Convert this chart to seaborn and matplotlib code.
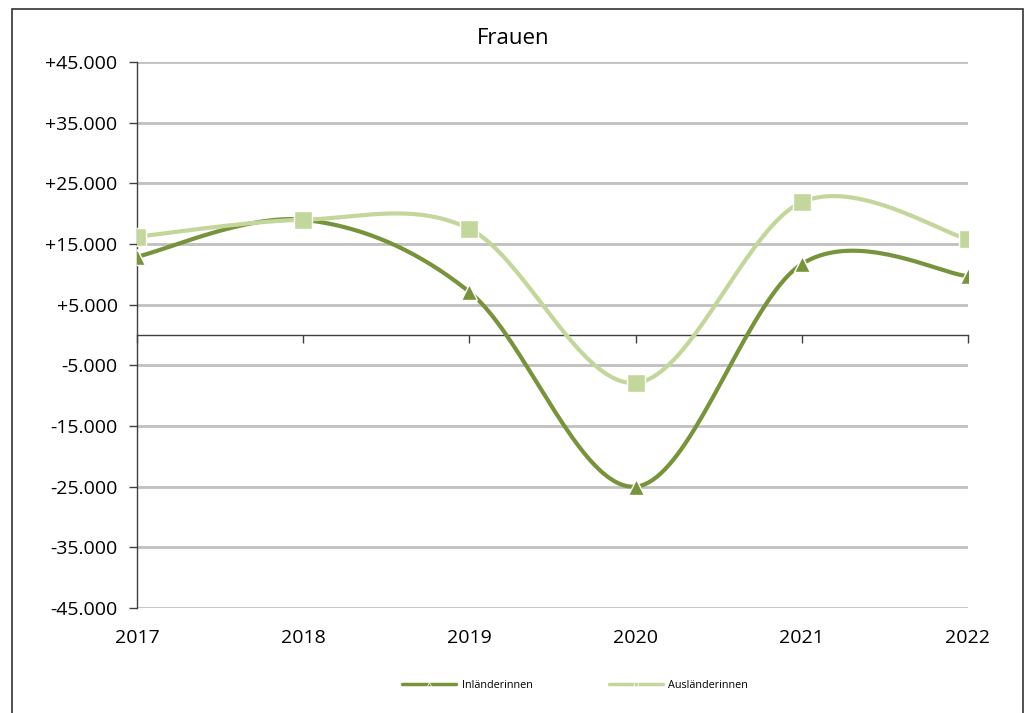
import numpy as np
import pandas as pd
import seaborn as sns
import matplotlib.pyplot as plt
from matplotlib.lines import Line2D
from matplotlib.patches import Rectangle

# data
years = [2017, 2018, 2019, 2020, 2021, 2022]
inlaenderinnen = [12900, 19000, 7100, -25000, 11700, 9700]
auslaenderinnen = [16200, 19000, 17500, -7900, 21900, 15800]
y_ticks = [-45000, -35000, -25000, -15000, -5000, 5000, 15000, 25000, 35000, 45000]

dark_green = '#77933C'
light_green = '#C3D69B'


def smooth(xs, ys, n=40):
    # excel style smoothed line (catmull-rom bezier through the points)
    p = np.column_stack([xs, ys]).astype(float)
    p = np.vstack([p[0], p, p[-1]])
    out = []
    for i in range(1, len(p) - 2):
        p0, p1, p2, p3 = p[i - 1], p[i], p[i + 1], p[i + 2]
        c1 = p1 + (p2 - p0) / 6
        c2 = p2 - (p3 - p1) / 6
        t = np.linspace(0, 1, n)[:, None]
        seg = (1 - t) ** 3 * p1 + 3 * (1 - t) ** 2 * t * c1 + 3 * (1 - t) * t ** 2 * c2 + t ** 3 * p2
        out.append(seg if i == 1 else seg[1:])
    return np.vstack(out)


sns.set_theme(style='white')
plt.rcParams['font.family'] = ['Open Sans', 'DejaVu Sans']
plt.rcParams['text.color'] = 'black'
plt.rcParams['xtick.color'] = 'black'
plt.rcParams['ytick.color'] = 'black'

fig = plt.figure(figsize=(10.27, 7.13), dpi=100)
ax = fig.add_axes([137 / 1027, 1 - 608 / 713, (968 - 137) / 1027, (608 - 62) / 713])

# outer frame
fig.patches.append(Rectangle((12 / 1027, -0.01), (1023 - 12) / 1027, 1 - 9 / 713 + 0.01,
                             transform=fig.transFigure, fill=False, edgecolor='#333333', lw=1.2))

for vals, col, mk, ms, z in [(inlaenderinnen, dark_green, '^', 12, 3), (auslaenderinnen, light_green, 's', 13, 5)]:
    pts = smooth(years, vals)
    df = pd.DataFrame({'x': pts[:, 0], 'y': pts[:, 1]})
    sns.lineplot(data=df, x='x', y='y', ax=ax, color=col, lw=3.0, sort=False, estimator=None, zorder=z)
    pdf = pd.DataFrame({'x': years, 'y': vals})
    ax.plot(pdf['x'], pdf['y'], ls='none', marker=mk, ms=ms, color=col, mec='white', mew=1.0, zorder=z + 1)

ax.set_xlim(2017, 2022)
ax.set_ylim(-45000, 45000)
ax.set_yticks(y_ticks)
ax.set_yticklabels([f'{v:+,}'.replace(',', '.') for v in y_ticks], fontsize=14)
for v in y_ticks:
    ax.axhline(v, color='#c0c0c0', lw=2, zorder=1)

for s in ['top', 'right']:
    ax.spines[s].set_visible(False)
ax.spines['left'].set_color('#404040')
ax.spines['left'].set_linewidth(1)
ax.spines['bottom'].set_position(('data', 0))
ax.spines['bottom'].set_color('#404040')
ax.spines['bottom'].set_linewidth(1)
ax.spines['bottom'].set_zorder(2)
ax.tick_params(axis='y', direction='out', length=6, width=1, color='#404040', left=True, pad=8)
ax.set_xticks(years)
ax.tick_params(axis='x', direction='out', length=6, width=1, color='#404040', bottom=True, labelbottom=False)

sec = ax.secondary_xaxis('bottom')
sec.set_xticks(years)
sec.set_xticklabels([str(y) for y in years], fontsize=14)
sec.tick_params(length=0, pad=15)
sec.spines['bottom'].set_visible(False)

ax.set_xlabel('')
ax.set_ylabel('')
fig.text(0.5, 1 - 38 / 713, 'Frauen', ha='center', va='center', fontsize=16)

handles = [
    Line2D([0], [0], color=dark_green, lw=2.5, marker='^', ms=3, mec='white', mew=0.5),
    Line2D([0], [0], color=light_green, lw=2.5, marker='s', ms=3, mec='white', mew=0.5),
]
fig.legend(handles, ['Inländerinnen', 'Ausländerinnen'], loc='center', bbox_to_anchor=(0.56, 1 - 685 / 713),
           ncol=2, frameon=False, fontsize=7.8, handlelength=5.0, columnspacing=7, handletextpad=0.5)

fig.savefig('out.png', dpi=100)
